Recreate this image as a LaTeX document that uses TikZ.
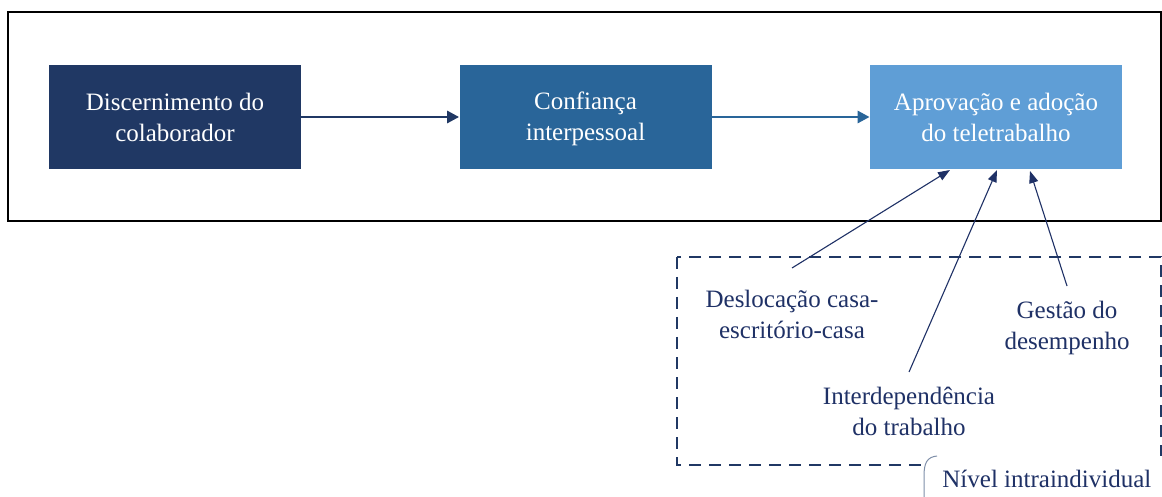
\documentclass[tikz,border=0pt]{standalone}
\usepackage{fontspec}
\setmainfont{Liberation Serif}
\usetikzlibrary{arrows.meta}
\definecolor{cnavy}{HTML}{203864}
\definecolor{cmid}{HTML}{296599}
\definecolor{clight}{HTML}{5F9ED6}
\definecolor{ctext}{HTML}{1F3166}
\definecolor{cbrack}{HTML}{7F8FA9}
\newcommand\tstrut{\rule[-1.7pt]{0pt}{12.5pt}}
\tikzset{
  mainbox/.style={rectangle, minimum width=126pt, minimum height=52pt, inner sep=0pt,
    text=white, align=center, font=\fontsize{12.5}{15.5}\selectfont},
  lbl/.style={align=center, text=ctext, inner sep=0pt, font=\fontsize{12.5}{15.5}\selectfont},
  bigarrow/.style={line width=1.4pt, -{Triangle[length=6pt,width=6pt]}},
  smallarrow/.style={draw=ctext, line width=0.55pt, -{Triangle[length=6pt,width=4.5pt]}},
}
\begin{document}
\begin{tikzpicture}[x=0.5pt,y=-0.5pt]
\useasboundingbox (0,0) rectangle (1162,497);
\fill[white] (0,0) rectangle (1162,497);
% outer frame
\draw[line width=0.8pt] (8,12) rectangle (1161,221);
% dashed frame
\draw[cnavy, line width=0.9pt, dash pattern=on 6pt off 4pt] (677,257) rectangle (1161,465);
% boxes
\node[mainbox, fill=cnavy] (d) at (175,117) {\tstrut Discernimento do\\\tstrut colaborador};
\node[mainbox, fill=cmid] (c) at (585.5,117) {\tstrut Confiança\\\tstrut interpessoal};
\node[mainbox, fill=clight] (a) at (996,117) {\tstrut Aprovação e adoção\\\tstrut do teletrabalho};
\draw[bigarrow, cnavy] (d.east) -- (c.west);
\draw[bigarrow, cmid] (c.east) -- (a.west);
% labels
\node[lbl] (l1) at (792,317) {\strut Deslocação casa-\\\strut escritório-casa};
\node[lbl] (l2) at (1067,328) {\strut Gestão do\\\strut desempenho};
\node[lbl] (l3) at (909,414) {\strut Interdependência\\\strut do trabalho};
\coordinate (s1) at (792,268);
\coordinate (s2) at (1067,286);
\coordinate (s3) at (909,372);
\coordinate (t1) at (950,170);
\coordinate (t2) at (997,170);
\coordinate (t3) at (1030,171);
\draw[smallarrow] (s1) -- (t1);
\draw[smallarrow] (s3) -- (t2);
\draw[smallarrow] (s2) -- (t3);
% level label
\fill[white] (922,456) rectangle (1162,497);
\draw[cbrack, line width=0.5pt] (937,456) .. controls (927,457) and (924,463) .. (924,476) -- (924,497);
\node[lbl, anchor=west] (niv) at (942,479) {Nível intraindividual};
\end{tikzpicture}
\end{document}
